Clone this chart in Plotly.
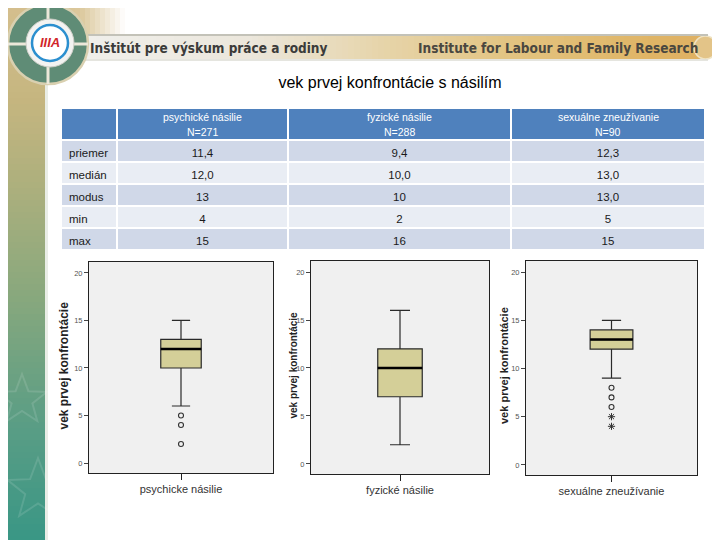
import math
import plotly.graph_objects as go

# ---------------- data ----------------
header_labels = ["", "psychické násilie<br>N=271", "fyzické násilie<br>N=288", "sexuálne zneužívanie<br>N=90"]
stat_labels = ["priemer", "medián", "modus", "min", "max"]
psych_stats = ["11,4", "12,0", "13", "4", "15"]
phys_stats = ["9,4", "10,0", "10", "2", "16"]
sex_stats = ["12,3", "13,0", "13,0", "5", "15"]

box_labels = ["psychicke násilie", "fyzické násilie", "sexuálne zneužívanie"]
box_q1 = [10, 7, 12]
box_median = [12, 10, 13]
box_q3 = [13, 12, 14]
box_lower = [6, 2, 9]
box_upper = [15, 16, 15]
psych_outliers = [5, 4, 2]
sex_outliers_circle = [8, 7, 6]
sex_outliers_star = [5, 4]

y_title = "vek prvej konfrontácie"
chart_title = "vek prvej konfrontácie s násilím"
y_ticks = [0, 5, 10, 15, 20]

# the page places the figure 8px from the top-left corner of the window
OFF = 8
W, H = 720 - OFF, 540 - OFF


def X(p):
    return (p - OFF) / W


def Y(p):
    return 1 - (p - OFF) / H


def hex2rgb(h):
    h = h.lstrip('#')
    return tuple(int(h[i:i + 2], 16) for i in (0, 2, 4))


def interp(stops, v):
    for (a, ca), (b, cb) in zip(stops, stops[1:]):
        if a <= v <= b:
            t = (v - a) / (b - a) if b > a else 0
            r1, g1, b1 = hex2rgb(ca)
            r2, g2, b2 = hex2rgb(cb)
            return "rgb(%d,%d,%d)" % (r1 + (r2 - r1) * t, g1 + (g2 - g1) * t, b1 + (b2 - b1) * t)
    return stops[-1][1]


shapes = []
annotations = []

# sidebar vertical gradient
side_stops = [(0, "#d6c08f"), (100, "#c6b680"), (200, "#a9af7d"), (300, "#87a87e"),
              (420, "#5c9e85"), (540, "#3a9786")]
step = 6
for yy in range(OFF, 540, step):
    shapes.append(dict(type="rect", xref="paper", yref="paper", x0=X(OFF), x1=X(45),
                       y0=Y(yy + step), y1=Y(yy), fillcolor=interp(side_stops, yy + step / 2),
                       line=dict(width=0), layer="below"))
shapes.append(dict(type="rect", xref="paper", yref="paper", x0=X(45), x1=X(48), y0=Y(540), y1=Y(70),
                   fillcolor="#e9ede6", line=dict(width=0), layer="below"))

# top-left tan fade
fade_stops = [(45, "#d6c08f"), (80, "#dcc89c"), (125, "#ffffff")]
for xx in range(45, 125, 5):
    shapes.append(dict(type="rect", xref="paper", yref="paper", x0=X(xx), x1=X(xx + 5),
                       y0=Y(36), y1=Y(OFF), fillcolor=interp(fade_stops, xx + 2.5),
                       line=dict(width=0), layer="below"))


def star_path(cx, cy, r):
    pts = []
    for i in range(10):
        ang = -math.pi / 2 + i * math.pi / 5
        rr = r if i % 2 == 0 else r * 0.42
        pts.append((X(cx + rr * math.cos(ang)), Y(cy + rr * math.sin(ang))))
    return "M " + " L ".join("%f,%f" % p for p in pts) + " Z"


for cx, cy, r in [(22, 400, 26), (38, 490, 32)]:
    shapes.append(dict(type="path", xref="paper", yref="paper", path=star_path(cx, cy, r),
                       line=dict(color="rgba(255,255,255,0.12)", width=2), fillcolor="rgba(0,0,0,0)",
                       layer="below"))

# banner gradient
ban_stops = [(60, "#f1f1ee"), (250, "#ece7dc"), (380, "#e7d5ab"), (520, "#e3c37f"),
             (650, "#e0b566"), (712, "#dfb062")]
for xx in range(60, 706, 6):
    shapes.append(dict(type="rect", xref="paper", yref="paper", x0=X(xx), x1=X(min(xx + 6, 706)),
                       y0=Y(59), y1=Y(36), fillcolor=interp(ban_stops, xx + 3),
                       line=dict(width=0), layer="below"))
shapes.append(dict(type="circle", xref="paper", yref="paper", x0=X(694), x1=X(717), y0=Y(59), y1=Y(36),
                   fillcolor="#e3c488", line=dict(color="#efe3c4", width=1.5), layer="below"))
shapes.append(dict(type="line", xref="paper", yref="paper", x0=X(60), x1=X(708), y0=Y(35), y1=Y(35),
                   line=dict(color="#c3c2b8", width=2), layer="below"))
shapes.append(dict(type="line", xref="paper", yref="paper", x0=X(60), x1=X(708), y0=Y(60), y1=Y(60),
                   line=dict(color="#dcdcd4", width=1.5), layer="below"))

# logo
shapes.append(dict(type="circle", xref="paper", yref="paper", x0=X(8), x1=X(88), y0=Y(84), y1=Y(4),
                   fillcolor="#5f8c76", line=dict(color="#d9d0b0", width=2.5), layer="below"))
shapes.append(dict(type="line", xref="paper", yref="paper", x0=X(8), x1=X(88), y0=Y(44), y1=Y(44),
                   line=dict(color="#ece8da", width=3), layer="below"))
shapes.append(dict(type="line", xref="paper", yref="paper", x0=X(48), x1=X(48), y0=Y(84), y1=Y(8),
                   line=dict(color="#ece8da", width=3), layer="below"))
shapes.append(dict(type="circle", xref="paper", yref="paper", x0=X(26), x1=X(74), y0=Y(67), y1=Y(19),
                   fillcolor="#f3f3f1", line=dict(color="#cfcfc8", width=1), layer="below"))
shapes.append(dict(type="circle", xref="paper", yref="paper", x0=X(32), x1=X(68), y0=Y(61), y1=Y(25),
                   fillcolor="#ffffff", line=dict(color="#2b8fcf", width=2.5), layer="below"))
annotations.append(dict(x=X(50), y=Y(43), xref="paper", yref="paper", text="<b><i>IIIA</i></b>",
                        showarrow=False, font=dict(family="Arial", size=13, color="#d1252a"),
                        xanchor="center", yanchor="middle"))

# banner text
annotations.append(dict(x=X(88), y=Y(48), xref="paper", yref="paper",
                        text="<b>Inštitút pre výskum práce a rodiny</b>", showarrow=False,
                        font=dict(family="DejaVu Sans Condensed", size=13.5, color="#3b3b3a"),
                        xanchor="left", yanchor="middle"))
annotations.append(dict(x=X(700), y=Y(48), xref="paper", yref="paper",
                        text="<b>Institute for Labour and Family Research</b>", showarrow=False,
                        font=dict(family="DejaVu Sans Condensed", size=13.5, color="#4a4740"),
                        xanchor="right", yanchor="middle"))

fig = go.Figure()

# table
table_x0, table_top = 61, 108
col_widths = [56, 171, 223, 194]
header_h, row_h = 32, 22
row_fill = ["#d0d8e8", "#e9edf4", "#d0d8e8", "#e9edf4", "#d0d8e8"]
fig.add_trace(go.Table(
    domain=dict(x=[X(table_x0), X(table_x0 + sum(col_widths))],
                y=[Y(table_top + header_h + row_h * len(stat_labels) + 6), Y(table_top)]),
    columnwidth=col_widths,
    header=dict(values=[""] * len(header_labels), fill_color="#4f81bd", height=header_h,
                line=dict(color="white", width=2)),
    cells=dict(values=[stat_labels, psych_stats, phys_stats, sex_stats],
               fill_color=[row_fill] * 4,
               font=dict(family="Arial", size=11.5, color="#1a1a1a"),
               align=["left", "center", "center", "center"], height=row_h,
               line=dict(color="white", width=2)),
))
# header captions (two lines each) centred on the header cells
cx = table_x0
for lab, w in zip(header_labels, col_widths):
    if lab:
        for k, line in enumerate(lab.split("<br>")):
            annotations.append(dict(x=X(cx + w / 2), y=Y(table_top + 9.5 + 14 * k), xref="paper",
                                    yref="paper", text=line, showarrow=False, align="center",
                                    font=dict(family="Arial", size=10.5, color="white"),
                                    xanchor="center", yanchor="middle"))
    cx += w

# box plots
panels = [
    dict(x=(89, 273), y=(262, 473), width=0.22, ytitle_x=63, ytitle_size=12),
    dict(x=(311, 489), y=(261, 474), width=0.25, ytitle_x=293, ytitle_size=10),
    dict(x=(526, 697), y=(261, 475), width=0.25, ytitle_x=504, ytitle_size=11),
]
box_fill = "#d4cf98"
for i, p in enumerate(panels):
    n = "" if i == 0 else str(i + 1)
    xa, ya = "x" + n, "y" + n
    fig.add_trace(go.Box(
        x=[box_labels[i]], q1=[box_q1[i]], median=[box_median[i]], q3=[box_q3[i]],
        lowerfence=[box_lower[i]], upperfence=[box_upper[i]],
        width=p["width"], whiskerwidth=0.45, fillcolor=box_fill,
        line=dict(color="#2a2a2a", width=1.2), boxpoints=False,
        xaxis=xa, yaxis=ya, showlegend=False, hoverinfo="skip"))
    # thick median line
    fig.add_trace(go.Box(
        x=[box_labels[i]], q1=[box_median[i]], median=[box_median[i]], q3=[box_median[i]],
        lowerfence=[box_median[i]], upperfence=[box_median[i]],
        width=p["width"], whiskerwidth=0, fillcolor="rgba(0,0,0,0)",
        line=dict(color="#000000", width=2.4), boxpoints=False,
        xaxis=xa, yaxis=ya, showlegend=False, hoverinfo="skip"))

    fig.layout["xaxis" + n] = dict(
        domain=[X(p["x"][0]), X(p["x"][1])], anchor=ya, type="category", range=[-0.5, 0.5],
        showline=True, linecolor="#222", linewidth=1, mirror=True, ticks="outside", ticklen=6,
        tickcolor="#222", tickfont=dict(family="Arial", size=11, color="#333"), showgrid=False)
    fig.layout["yaxis" + n] = dict(
        domain=[Y(p["y"][1]), Y(p["y"][0])], anchor=xa, range=[-1.05, 21.15],
        tickvals=y_ticks, ticks="outside", ticklen=4, tickcolor="#444",
        tickfont=dict(family="Arial", size=7.5, color="#555"),
        showline=True, linecolor="#222", linewidth=1, mirror=True, showgrid=False, zeroline=False)
    annotations.append(dict(x=X(p["ytitle_x"]), y=Y((p["y"][0] + p["y"][1]) / 2 - 2),
                            xref="paper", yref="paper", text="<b>" + y_title + "</b>",
                            textangle=-90, showarrow=False,
                            font=dict(family="Arial", size=p["ytitle_size"], color="#222"),
                            xanchor="center", yanchor="middle"))

fig.add_trace(go.Scatter(x=[box_labels[0]] * len(psych_outliers), y=psych_outliers, mode="markers",
                         marker=dict(symbol="circle-open", size=5, color="#333", line=dict(width=1.1)),
                         xaxis="x", yaxis="y", showlegend=False, hoverinfo="skip"))
fig.add_trace(go.Scatter(x=[box_labels[2]] * len(sex_outliers_circle), y=sex_outliers_circle,
                         mode="markers",
                         marker=dict(symbol="circle-open", size=5, color="#333", line=dict(width=1.1)),
                         xaxis="x3", yaxis="y3", showlegend=False, hoverinfo="skip"))
fig.add_trace(go.Scatter(x=[box_labels[2]] * len(sex_outliers_star), y=sex_outliers_star,
                         mode="markers",
                         marker=dict(symbol="asterisk-open", size=6, color="#333", line=dict(width=1)),
                         xaxis="x3", yaxis="y3", showlegend=False, hoverinfo="skip"))

fig.update_layout(
    width=W, height=H, margin=dict(l=0, r=0, t=0, b=0),
    paper_bgcolor="white", plot_bgcolor="#f0f0f0",
    title=dict(text=chart_title, x=X(390), y=Y(82), xanchor="center", yanchor="middle",
               font=dict(family="Arial", size=16, color="#000")),
    shapes=shapes, annotations=annotations, showlegend=False,
)

fig.write_html("out.html")
